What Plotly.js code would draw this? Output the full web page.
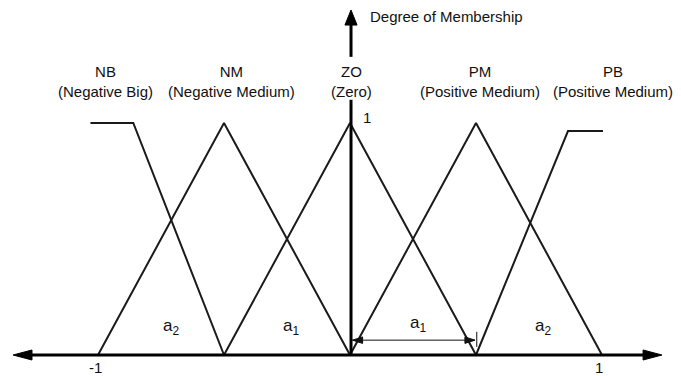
<!DOCTYPE html>
<html>
<head>
<meta charset="utf-8">
<script src="https://cdn.plot.ly/plotly-3.0.1.min.js"></script>
<style>html,body{margin:0;padding:0;background:#fff;}#chart{width:681px;height:376px;}</style>
</head>
<body>
<div id="chart"></div>
<script>
// Membership functions (x in normalized universe, y = degree of membership)
const nbX = [-1.03, -0.86, -0.5];
const nbY = [1.0, 1.0, 0];
const nmX = [-1.0, -0.5, 0];
const nmY = [0, 1.0, 0];
const zoX = [-0.5, 0, 0.5];
const zoY = [0, 1.0, 0];
const pmX = [0, 0.5, 1.0];
const pmY = [0, 1.0, 0];
const pbX = [0.5, 0.865, 1.004];
const pbY = [0, 0.965, 0.965];

const setNames = ["NB<br>(Negative Big)", "NM<br>(Negative Medium)", "ZO<br>(Zero)", "PM<br>(Positive Medium)", "PB<br>(Positive Medium)"];
const setLabelX = [-0.97, -0.47, 0.006, 0.516, 1.045];
const tickVals = [-1, 1];
const tickText = ["-1", "1"];
const areaLabels = ["a<sub>2</sub>", "a<sub>1</sub>", "a<sub>1</sub>", "a<sub>2</sub>"];
const areaX = [-0.71, -0.235, 0.27, 0.765];
const areaY = [0.12, 0.12, 0.135, 0.12];

const lineStyle = {color: '#1a1a1a', width: 2};
const series = [[nbX, nbY], [nmX, nmY], [zoX, zoY], [pmX, pmY], [pbX, pbY]];
const traces = series.map(s => ({
  x: s[0], y: s[1], type: 'scatter', mode: 'lines', line: lineStyle,
  hoverinfo: 'skip', showlegend: false
}));

const font = {family: 'Liberation Sans, Arial, sans-serif', size: 15, color: '#111'};
const areaFont = {family: 'Liberation Sans, Arial, sans-serif', size: 17, color: '#111'};
const annotations = [];
setNames.forEach((t, i) => annotations.push({
  x: setLabelX[i], y: 1.18, xref: 'x', yref: 'y', text: t, showarrow: false,
  font: font, align: 'center', xanchor: 'center', yanchor: 'middle'
}));
tickVals.forEach((v, i) => annotations.push({
  x: v - 0.01, y: -0.055, xref: 'x', yref: 'y', text: tickText[i], showarrow: false,
  font: font, xanchor: 'center', yanchor: 'middle'
}));
areaLabels.forEach((t, i) => annotations.push({
  x: areaX[i], y: areaY[i], xref: 'x', yref: 'y', text: t, showarrow: false,
  font: areaFont, xanchor: 'center', yanchor: 'middle'
}));
annotations.push({x: 0.067, y: 1.025, xref: 'x', yref: 'y', text: '1', showarrow: false, font: font, xanchor: 'center', yanchor: 'middle'});
annotations.push({x: 0.07, y: 1.46, xref: 'x', yref: 'y', text: 'Degree of Membership', showarrow: false, font: font, xanchor: 'left', yanchor: 'middle'});

const black = {color: '#000', width: 3};
const thin = {color: '#111', width: 1};
const shapes = [
  {type: 'line', xref: 'x', yref: 'y', x0: -1.29, y0: 0, x1: 1.19, y1: 0, line: black},
  {type: 'path', xref: 'x', yref: 'y', path: 'M 1.238,0 L 1.163,0.0216 L 1.163,-0.0216 Z', fillcolor: '#000', line: {color: '#000', width: 1}},
  {type: 'path', xref: 'x', yref: 'y', path: 'M -1.337,0 L -1.262,0.0216 L -1.262,-0.0216 Z', fillcolor: '#000', line: {color: '#000', width: 1}},
  {type: 'line', xref: 'x', yref: 'y', x0: 0.004, y0: 0, x1: 0.004, y1: 1.10, line: black},
  {type: 'line', xref: 'x', yref: 'y', x0: 0.004, y0: 1.285, x1: 0.004, y1: 1.43, line: black},
  {type: 'path', xref: 'x', yref: 'y', path: 'M 0.004,1.487 L -0.02,1.422 L 0.028,1.422 Z', fillcolor: '#000', line: {color: '#000', width: 1}},
  // a1 dimension arrow
  {type: 'line', xref: 'x', yref: 'y', x0: 0.01, y0: 0.064, x1: 0.495, y1: 0.064, line: thin},
  {type: 'path', xref: 'x', yref: 'y', path: 'M 0.01,0.064 L 0.05,0.078 L 0.05,0.050 Z', fillcolor: '#111', line: thin},
  {type: 'path', xref: 'x', yref: 'y', path: 'M 0.496,0.064 L 0.456,0.078 L 0.456,0.050 Z', fillcolor: '#111', line: thin},
  {type: 'line', xref: 'x', yref: 'y', x0: 0.503, y0: 0.035, x1: 0.503, y1: 0.1, line: thin}
];

const layout = {
  width: 681, height: 376,
  margin: {l: 0, r: 0, t: 0, b: 0},
  paper_bgcolor: '#fff', plot_bgcolor: '#fff',
  xaxis: {range: [-1.3889, 1.3135], visible: false, fixedrange: true},
  yaxis: {range: [-0.0905, 1.530], visible: false, fixedrange: true},
  annotations: annotations, shapes: shapes, showlegend: false
};
Plotly.newPlot('chart', traces, layout, {displayModeBar: false, staticPlot: true});
</script>
</body>
</html>
